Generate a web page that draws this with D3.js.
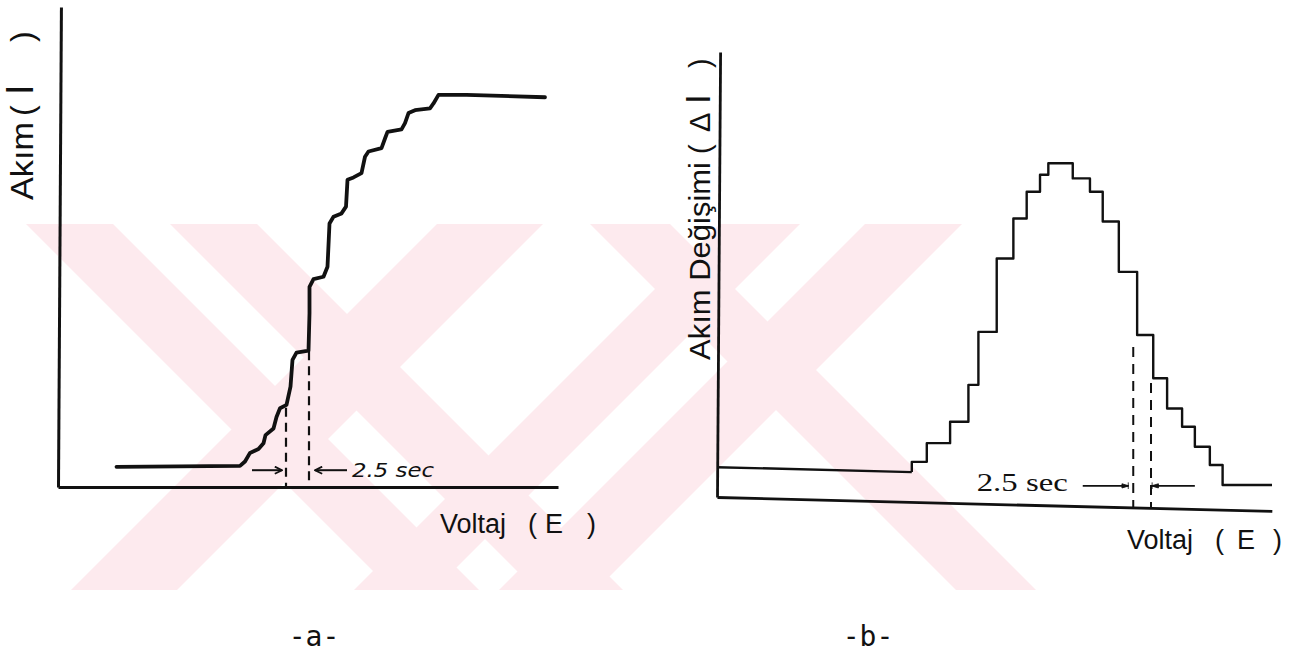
<!DOCTYPE html>
<html>
<head>
<meta charset="utf-8">
<script src="https://cdn.jsdelivr.net/npm/d3@7"></script>
<style>
  body { margin: 0; background: #fff; }
  svg { display: block; }
  .lbl { font-family: "Liberation Sans", Arial, sans-serif; fill: #111; }
</style>
</head>
<body>
<svg id="fig" width="1295" height="664"></svg>
<script>
// panel a : current (I) against voltage (E), staircase wave
const aVolt = [11.7, 36.4, 37.4, 38.4, 40.1, 41.1, 41.5, 43.1, 43.7, 44.4, 45.7, 46.5, 46.9, 47.7, 50.1, 50.3, 50.3, 51.1, 53.1, 53.9, 54.3, 55.1, 56.7, 57.6, 57.9, 59.1, 60.7, 61.4, 62.1, 64.7, 65.4, 65.9, 68.7, 69.4, 70.1, 71.4, 74.4, 75.1, 76.1, 81.7, 97.4]
const aCurr = [4.2, 4.4, 5.3, 7.1, 7.9, 9.1, 10.8, 12.2, 14.6, 16.4, 17.1, 20.9, 26.5, 28.0, 28.4, 36.2, 41.7, 43.3, 43.8, 45.9, 54.9, 56.3, 57.0, 58.4, 64.0, 64.5, 65.4, 68.8, 69.9, 70.6, 72.6, 74.0, 74.5, 75.8, 77.9, 78.5, 78.9, 79.9, 81.7, 81.7, 81.2]
const aMarkVolt = [45.6, 50.2]     // dashed markers, one step apart
const aMarkTop = [16.5, 28.3]
const aArrows = [[38.8, 44.8], [57.8, 51.4]]   // from -> to (voltage)
const aArrowCurr = 3.5

// panel b : change in current (dI) against voltage (E)
const bBaseVolt = [0, 35.1]
const bBaseCurr = [6.7, 5.6]
const bStepVolt = [35.1, 37.8, 42.0, 45.3, 47.1, 50.4, 53.4, 55.8, 58.2, 59.7, 64.1, 67.2, 69.5, 72.4, 75.7, 78.6, 81.1, 83.8, 86.1, 88.8, 91.1, 100]
const bStepCurr = [7.9, 12.1, 16.9, 25.2, 37.1, 53.6, 62.6, 68.6, 72.4, 75.0, 71.6, 68.6, 61.9, 50.6, 36.4, 26.7, 19.9, 15.8, 11.3, 7.2, 2.7, 2.7]
const bMarkVolt = [75.0, 78.2]
const bMarkTop = [33.7, 25.6]
const bArrows = [[65.9, 74.1], [86.1, 78.4]]
const bArrowCurr = 2.5

const stepLabel = "2.5 sec"
const yLabelA = ["Akım", "(", "I", ")"]
const yLabelB = ["Akım Değişimi", "(", "Δ", "I", ")"]
const xLabel = ["Voltaj", "(", "E", ")"]
const panelNames = ["-a-", "-b-"]

const svg = d3.select("#fig")

// light watermark band behind the figure
const wm = svg.append("g")
const wmStripes = [
  [26, 113, 1], [170, 257, 1], [437, 543, -1],
  [590, 670, 1], [720, 800, -1], [865, 962, -1]
]
wm.append("clipPath").attr("id", "band").append("rect")
  .attr("x", 0).attr("y", 224).attr("width", 1295).attr("height", 366)
wm.selectAll("polygon").data(wmStripes).enter().append("polygon")
  .attr("clip-path", "url(#band)")
  .attr("points", d => {
    const s = d[2] * 366
    return [[d[0], 224], [d[1], 224], [d[1] + s, 590], [d[0] + s, 590]].join(" ")
  })
  .attr("fill", "#fdeaee")

var xA = d3.scaleLinear().domain([0, 100]).range([58, 558]),
    yA = d3.scaleLinear().domain([0, 100]).range([487, 7]),
    xB = d3.scaleLinear().domain([0, 100]).range([717, 1272]),
    yB = d3.scaleLinear().domain([0, 100]).range([497, 52]);

// arrow heads
const defs = svg.append("defs")
defs.append("marker").attr("id", "headA")
  .attr("viewBox", "0 -5 10 10").attr("refX", 9).attr("refY", 0)
  .attr("markerWidth", 9).attr("markerHeight", 9).attr("markerUnits", "userSpaceOnUse")
  .attr("orient", "auto")
  .append("path").attr("d", "M1,-4L9,0L1,4").attr("fill", "none").attr("stroke", "#111").attr("stroke-width", 2)
defs.append("marker").attr("id", "headB")
  .attr("viewBox", "0 -5 10 10").attr("refX", 9).attr("refY", 0)
  .attr("markerWidth", 9).attr("markerHeight", 7).attr("markerUnits", "userSpaceOnUse")
  .attr("orient", "auto")
  .append("path").attr("d", "M0,-3L10,0L0,3Z M9,-5V5").attr("fill", "#111").attr("stroke", "#111").attr("stroke-width", 1.2)

// ---------- panel a
const gA = svg.append("g")
gA.append("g").attr("transform", "translate(0," + yA(0) + ")")
  .call(d3.axisBottom(xA).tickValues([]).tickSizeOuter(0))
  .select(".domain").attr("stroke", "#111").attr("stroke-width", 3)
gA.append("g").attr("transform", "translate(" + xA(0) + ",0) rotate(0.35," + 0 + "," + yA(0) + ")")
  .call(d3.axisLeft(yA).tickValues([]).tickSizeOuter(0))
  .select(".domain").attr("stroke", "#111").attr("stroke-width", 3)

const lineA = d3.line()
  .x(function(d, i) { return xA(aVolt[i]); })
  .y(function(d, i) { return yA(aCurr[i]); })
gA.append("path").attr("d", lineA(aVolt))
  .attr("fill", "none").attr("stroke", "#111").attr("stroke-width", 3.8)
  .attr("stroke-linejoin", "round").attr("stroke-linecap", "round")

gA.selectAll(".mark").data(aMarkVolt).enter().append("line")
  .attr("x1", d => xA(d)).attr("x2", d => xA(d))
  .attr("y1", (d, i) => yA(aMarkTop[i])).attr("y2", yA(0))
  .attr("stroke", "#111").attr("stroke-width", 2.2).attr("stroke-dasharray", "9,6")

gA.selectAll(".arr").data(aArrows).enter().append("line")
  .attr("x1", d => xA(d[0])).attr("x2", d => xA(d[1]))
  .attr("y1", yA(aArrowCurr)).attr("y2", yA(aArrowCurr))
  .attr("stroke", "#111").attr("stroke-width", 2).attr("marker-end", "url(#headA)")

gA.append("text").attr("x", xA(58.8)).attr("y", yA(2.1))
  .attr("font-family", "DejaVu Sans, sans-serif").attr("font-style", "italic")
  .attr("font-size", 19).attr("textLength", 82).attr("lengthAdjust", "spacingAndGlyphs")
  .attr("fill", "#111").text(stepLabel)

// ---------- panel b
const gB = svg.append("g")
gB.append("g").attr("transform", "translate(0," + yB(0) + ") rotate(1.44," + xB(0) + ",0)")
  .call(d3.axisBottom(xB).tickValues([]).tickSizeOuter(0))
  .select(".domain").attr("stroke", "#111").attr("stroke-width", 2.8)
gB.append("g").attr("transform", "translate(" + xB(0) + ",0) rotate(0.4," + 0 + "," + yB(0) + ")")
  .call(d3.axisLeft(yB).tickValues([]).tickSizeOuter(0))
  .select(".domain").attr("stroke", "#111").attr("stroke-width", 2.8)

const lineB0 = d3.line()
  .x(function(d, i) { return xB(bBaseVolt[i]); })
  .y(function(d, i) { return yB(bBaseCurr[i]); })
gB.append("path").attr("d", lineB0(bBaseVolt))
  .attr("fill", "none").attr("stroke", "#111").attr("stroke-width", 2.4)

// stair: level i holds from bStepVolt[i] to bStepVolt[i+1]
const bStair = [[bBaseVolt[1], bBaseCurr[1]]]
bStepVolt.forEach((v, i) => { if (i > 0) bStair.push([v, bStepCurr[i - 1]]); bStair.push([v, bStepCurr[i]]) })
gB.append("path").attr("d", d3.line().x(d => xB(d[0])).y(d => yB(d[1]))(bStair))
  .attr("fill", "none").attr("stroke", "#111").attr("stroke-width", 2.4)
  .attr("stroke-linejoin", "round")

gB.selectAll(".mark").data(bMarkVolt).enter().append("line")
  .attr("x1", d => xB(d)).attr("x2", d => xB(d))
  .attr("y1", (d, i) => yB(bMarkTop[i])).attr("y2", yB(-2.3))
  .attr("stroke", "#111").attr("stroke-width", 2).attr("stroke-dasharray", "10,7")

gB.selectAll(".arr").data(bArrows).enter().append("line")
  .attr("x1", d => xB(d[0])).attr("x2", d => xB(d[1]))
  .attr("y1", yB(bArrowCurr)).attr("y2", yB(bArrowCurr))
  .attr("stroke", "#111").attr("stroke-width", 1.8).attr("marker-end", "url(#headB)")

gB.append("text").attr("x", xB(46.8)).attr("y", yB(1.3))
  .attr("font-family", "Liberation Serif, serif")
  .attr("font-size", 25).attr("textLength", 91).attr("lengthAdjust", "spacingAndGlyphs")
  .attr("fill", "#111").text(stepLabel)

// ---------- axis titles (rotated)
function yTitle(x, y, parts, offs, lens, size) {
  const g = svg.append("g").attr("transform", "translate(" + x + "," + y + ") rotate(-90)")
  parts.forEach((p, i) => {
    const t = g.append("text").attr("class", "lbl").attr("x", offs[i]).attr("y", 0)
      .attr("font-size", p === "I" ? size + 6 : size)
      .attr("font-family", p === "I" ? "Liberation Mono, monospace" : null)
      .text(p)
    if (lens[i]) t.attr("textLength", lens[i]).attr("lengthAdjust", "spacingAndGlyphs")
  })
}
yTitle(33, 200, yLabelA, [0, 84, 105, 158], [78, 0, 0, 0], 32)
yTitle(710, 360, yLabelB, [0, 206, 228, 256, 292], [198, 0, 0, 0, 0], 29)

function xTitle(x, y, offs) {
  const t = svg.append("text").attr("class", "lbl").attr("font-size", 27)
  xLabel.forEach((p, i) => t.append("tspan").attr("x", x + offs[i]).attr("y", y).text(p))
}
xTitle(440, 533, [0, 88, 105, 147])
xTitle(1127, 549, [0, 88, 110, 146])

svg.selectAll(".pname").data(panelNames).enter().append("text")
  .attr("x", (d, i) => i === 0 ? 314 : 868).attr("y", 646)
  .attr("text-anchor", "middle")
  .attr("font-family", "DejaVu Sans Mono, monospace").attr("font-size", 28)
  .attr("fill", "#111").text(d => d)
</script>
</body>
</html>
